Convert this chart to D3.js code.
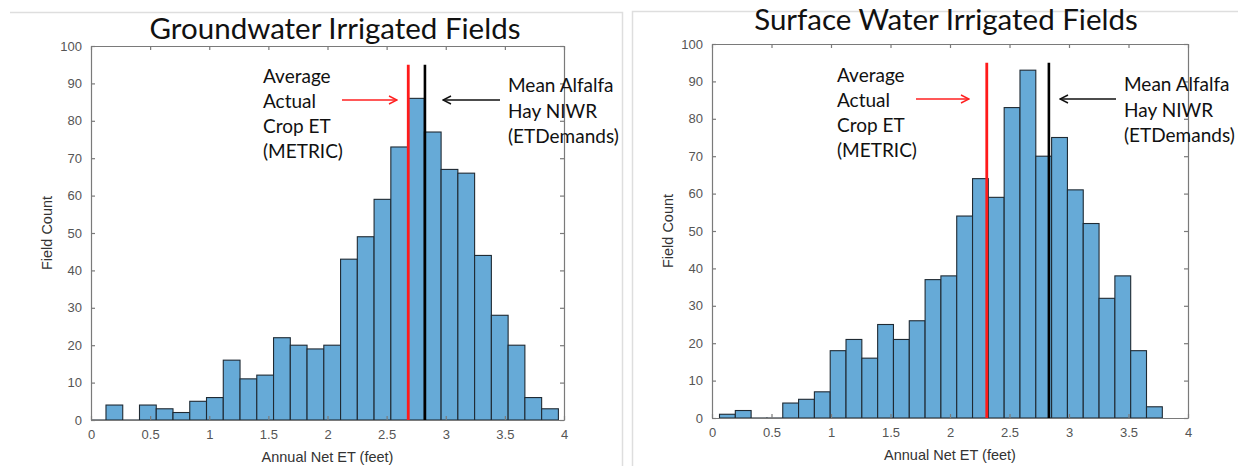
<!DOCTYPE html>
<html><head><meta charset="utf-8">
<script src="https://cdn.jsdelivr.net/npm/d3@7"></script>
<style>body{margin:0;background:#fff}svg{display:block}</style>
</head><body>
<svg id="c" width="1238" height="466"></svg>
<script>
// ---- data ----
const xTicks = [0, 0.5, 1, 1.5, 2, 2.5, 3, 3.5, 4];
const xTickLabels = ["0", "0.5", "1", "1.5", "2", "2.5", "3", "3.5", "4"];
const yTicks = [0, 10, 20, 30, 40, 50, 60, 70, 80, 90, 100];

// Groundwater: bins (first edge, width) and counts
const gwFirstEdge = -0.015, gwBinWidth = 0.1417;
const gwCounts = [0,4,0,4,3,2,5,6,16,11,12,22,20,19,20,43,49,59,73,86,77,67,66,44,28,20,6,3];
const gwActualET = 2.683, gwNIWR = 2.824;

// Surface water
const swFirstEdge = 0.063, swBinWidth = 0.1329;
const swCounts = [1,2,0,0,4,5,7,18,21,16,25,21,26,37,38,54,64,59,83,93,70,75,61,52,32,38,18,3];
const swActualET = 2.309, swNIWR = 2.831;

const lineTop = 95;
const titles = ["Groundwater Irrigated Fields", "Surface Water Irrigated Fields"];
const leftNote = ["Average", "Actual", "Crop ET", "(METRIC)"];
const rightNote = ["Mean Alfalfa", "Hay NIWR", "(ETDemands)"];
const xLabel = "Annual Net ET (feet)", yLabel = "Field Count";

const svg = d3.select("#c");
const defs = svg.append("defs");
[["arR","#ff2020"],["arK","#111"]].forEach(([id,c])=>{
  defs.append("marker").attr("id",id).attr("viewBox","0 0 10 10").attr("refX",9).attr("refY",5)
    .attr("markerWidth",10).attr("markerHeight",10).attr("markerUnits","userSpaceOnUse").attr("orient","auto")
    .append("path").attr("d","M1,1 L9,5 L1,9").attr("fill","none").attr("stroke",c).attr("stroke-width",1.4);
});

// panel frames
svg.append("path").attr("d","M10,12.5 H622.5 V466").attr("fill","none").attr("stroke","#dedede").attr("stroke-width",1.5);
svg.append("path").attr("d","M632.5,466 V11.5 H1238").attr("fill","none").attr("stroke","#dedede").attr("stroke-width",1.5);

const noteFont = "Lato, 'Open Sans', sans-serif";
const axFont = "'Liberation Sans', Arial, sans-serif";

function panel(o){
  const x = d3.scaleLinear().domain([0,4]).range([o.x0,o.x1]);
  const y = d3.scaleLinear().domain([0,100]).range([o.y0,o.y1]);
  const g = svg.append("g");
  const clip = "clip"+o.id;
  defs.append("clipPath").attr("id",clip).append("rect")
    .attr("x",o.x0).attr("y",o.y1-5).attr("width",o.x1-o.x0).attr("height",o.y0-o.y1+10);

  // bars
  g.append("g").attr("clip-path",`url(#${clip})`).selectAll("rect").data(o.counts).join("rect")
    .attr("x",(d,i)=>x(o.first+i*o.w)).attr("width",(d,i)=>x(o.first+(i+1)*o.w)-x(o.first+i*o.w))
    .attr("y",d=>y(d)).attr("height",d=>Math.max(0.01, y(0)-y(d)))
    .attr("fill","#66aad7").attr("stroke","#1f2a33").attr("stroke-width",1.1);

  // axes (box with inward ticks)
  const ac = "#7a7a7a";
  const bottom = g.append("g").attr("transform",`translate(0,${o.y0})`)
    .call(d3.axisBottom(x).tickValues(xTicks).tickFormat((d,i)=>xTickLabels[i]).tickSizeInner(-4).tickSizeOuter(0).tickPadding(10));
  const top = g.append("g").attr("transform",`translate(0,${o.y1})`)
    .call(d3.axisTop(x).tickValues(xTicks).tickFormat("").tickSizeInner(-4).tickSizeOuter(0));
  const left = g.append("g").attr("transform",`translate(${o.x0},0)`)
    .call(d3.axisLeft(y).tickValues(yTicks).tickSizeInner(-4).tickSizeOuter(0).tickPadding(9));
  const right = g.append("g").attr("transform",`translate(${o.x1},0)`)
    .call(d3.axisRight(y).tickValues(yTicks).tickFormat("").tickSizeInner(-4).tickSizeOuter(0));
  [bottom,top,left,right].forEach(a=>{
    a.selectAll("path,line").attr("stroke",ac).attr("stroke-width",1.2);
    a.selectAll("text").attr("fill","#555").style("font-family",axFont).style("font-size","13px");
  });

  // mean lines
  g.append("line").attr("x1",x(o.red)).attr("x2",x(o.red)).attr("y1",y(0)).attr("y2",y(lineTop))
    .attr("stroke","#ff1a1a").attr("stroke-width",2.8);
  g.append("line").attr("x1",x(o.blk)).attr("x2",x(o.blk)).attr("y1",y(0)).attr("y2",y(lineTop))
    .attr("stroke","#000").attr("stroke-width",2.6);

  // arrows
  g.append("line").attr("x1",o.rArrow[0]).attr("x2",o.rArrow[1]).attr("y1",o.arrowY).attr("y2",o.arrowY)
    .attr("stroke","#ff2020").attr("stroke-width",1.4).attr("marker-end","url(#arR)");
  g.append("line").attr("x1",o.kArrow[0]).attr("x2",o.kArrow[1]).attr("y1",o.arrowY).attr("y2",o.arrowY)
    .attr("stroke","#111").attr("stroke-width",1.4).attr("marker-end","url(#arK)");

  // notes
  leftNote.forEach((t,i)=>g.append("text").attr("x",o.lnX).attr("y",o.lnY+i*25).text(t)
    .style("font-family",noteFont).style("font-size","19px").attr("fill","#111"));
  rightNote.forEach((t,i)=>g.append("text").attr("x",o.rnX).attr("y",o.rnY+i*25.5).text(t)
    .style("font-family",noteFont).style("font-size","19px").attr("fill","#111"));

  // title
  g.append("text").attr("x",o.tX).attr("y",o.tY).attr("text-anchor","middle").text(o.title)
    .style("font-family",noteFont).style("font-size","29.5px").attr("fill","#111");

  // axis labels
  g.append("text").attr("x",(o.x0+o.x1)/2).attr("y",o.y0+42).attr("text-anchor","middle").text(xLabel)
    .style("font-family",axFont).style("font-size","14.5px").attr("fill","#333");
  g.append("text").attr("transform",`translate(${o.ylX},${(o.y0+o.y1)/2}) rotate(-90)`).attr("text-anchor","middle").text(yLabel)
    .style("font-family",axFont).style("font-size","14.5px").attr("fill","#333");
}

panel({id:"gw",x0:91,x1:564,y0:420,y1:46,counts:gwCounts,first:gwFirstEdge,w:gwBinWidth,
  red:gwActualET,blk:gwNIWR,rArrow:[342,397],kArrow:[500,443],arrowY:100,
  lnX:263,lnY:83,rnX:508,rnY:92,title:titles[0],tX:335,tY:39,ylX:52});
panel({id:"sw",x0:712,x1:1188,y0:418,y1:44,counts:swCounts,first:swFirstEdge,w:swBinWidth,
  red:swActualET,blk:swNIWR,rArrow:[916,969],kArrow:[1116,1060],arrowY:99,
  lnX:837,lnY:82,rnX:1124,rnY:91,title:titles[1],tX:946,tY:30,ylX:673});
</script>
</body></html>
